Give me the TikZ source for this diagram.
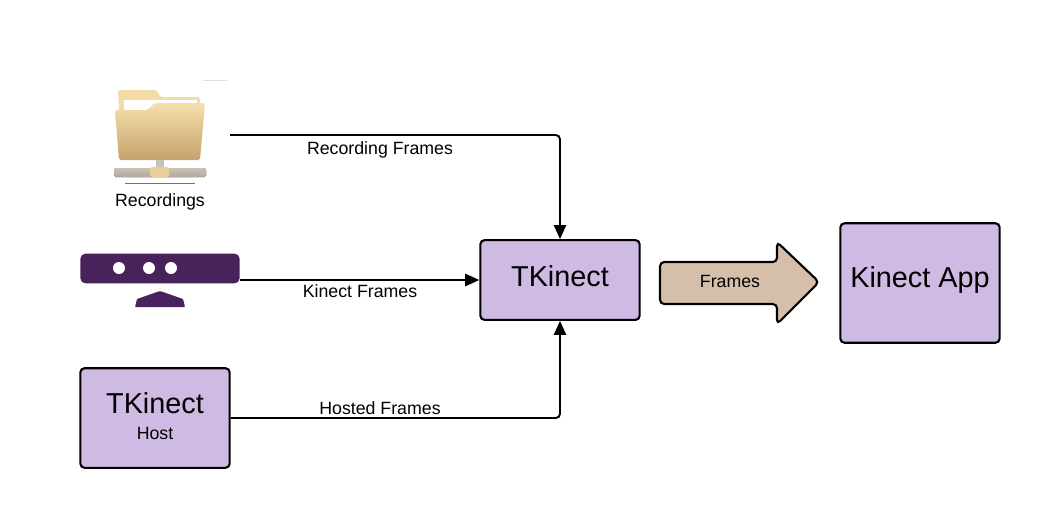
\documentclass[tikz,border=0pt]{standalone}
\usepackage{fontspec}
\setmainfont{Liberation Sans}
\usetikzlibrary{arrows.meta}
\definecolor{boxpurple}{HTML}{CEBAE3}
\definecolor{sensorpurple}{HTML}{47225B}
\definecolor{arrowtan}{HTML}{D5BFAA}
\definecolor{foldertop}{HTML}{F6DFAC}
\definecolor{folderlow}{HTML}{C6A36E}
\definecolor{foldertab}{HTML}{F3DBA8}
\definecolor{barstone}{HTML}{B3A79A}
\tikzset{
  box/.style={draw=black, line width=1.2pt, fill=boxpurple, rounded corners=2.4pt,
    minimum width=#1, inner sep=0pt, align=center},
  box/.default=85pt,
  feed/.style={draw=black, line width=1.1pt, rounded corners=2.4pt,
    -{Triangle[length=8pt,width=7pt]}},
  lab/.style={font=\fontsize{10.1}{12}\selectfont, inner sep=0pt},
  big/.style={font=\fontsize{16.4}{19}\selectfont}
}
\begin{document}
\begin{tikzpicture}[x=0.02cm,y=-0.02cm]
\useasboundingbox (0,0) rectangle (1038,518);

% boxes
\node [box=90.7pt, minimum height=45.4pt] (tkinect) at (560,280) {};
\node [big] (tkinecttext) at (560,276) {TKinect};
\node [box=90.7pt, minimum height=68pt] (app) at (920,283) {};
\node [big] (apptext) at (920,280) {Kinect App};
\node [box=85pt, minimum height=56.7pt] (host) at (155,418) {};
\node [big] (hosttext) at (155,403) {TKinect};
\node [lab] (hostsub) at (155,433) {Host};

% folder
\fill [gray!25] (203,80) -- (227,80) -- (227,80.6) -- (203,80.6) -- cycle;
\fill [foldertab, rounded corners=1.5pt]
   (119,112) -- (118,90) -- (157,90) -- (160,97) -- (200,97) -- (200,112) -- cycle;
\fill [white] (124,100) -- (197,100) -- (197,106) -- (124,112) -- cycle;
\draw [top color=foldertop, bottom color=folderlow, draw=none, rounded corners=1pt]
   (115,110) -- (144,110) .. controls (150,110) and (152,103) .. (158,103)
   -- (205,103) -- (200,160) -- (119,160) -- cycle;
\fill [barstone!70] (156,160) rectangle (164,168);
\fill [rounded corners=1pt, top color=barstone!70, bottom color=barstone] (114,168) rectangle (206,177);
\fill [foldertab!85!brown, rounded corners=1pt] (150,167) rectangle (169,177);
\fill [black!55] (125,182.5) -- (195,182.5) -- (195,184) -- (125,184) -- cycle;
\node [lab] (recordings) at (160,202) {Recordings};
\coordinate (folderout) at (230,135);

% sensor
\node [fill=sensorpurple, rounded corners=3pt, minimum width=90.7pt, minimum height=17pt,
   inner sep=0pt] (sensor) at (160,268.5) {};
\fill [white] (119,268) circle (6) (149,268) circle (6) (171,268) circle (6);
\fill [sensorpurple, rounded corners=0.5pt] (135,307) -- (137,299) -- (160,291) -- (183,299) -- (185,307) -- cycle;
\coordinate (sensorout) at (240,280);

% feeds
\draw [feed] (folderout) -| (tkinect.north);
\draw [feed] (sensorout) -- (sensorout -| tkinect.west);
\draw [feed] (host.east) -| (tkinect.south);

% feed labels
\node [lab] (recordinglab) at (380,150) {Recording Frames};
\node [lab] (kinectlab) at (360,291) {Kinect Frames};
\node [lab] (hostedlab) at (380,408) {Hosted Frames};

% big arrow
\draw [line width=1.2pt, fill=arrowtan, rounded corners=2.4pt]
   (660,262) -- (777,262) -- (777,242) -- (819,282) -- (777,324) -- (777,304) -- (660,304) -- cycle;
\node [lab] (frameslab) at (730,281) {Frames};
\end{tikzpicture}
\end{document}
